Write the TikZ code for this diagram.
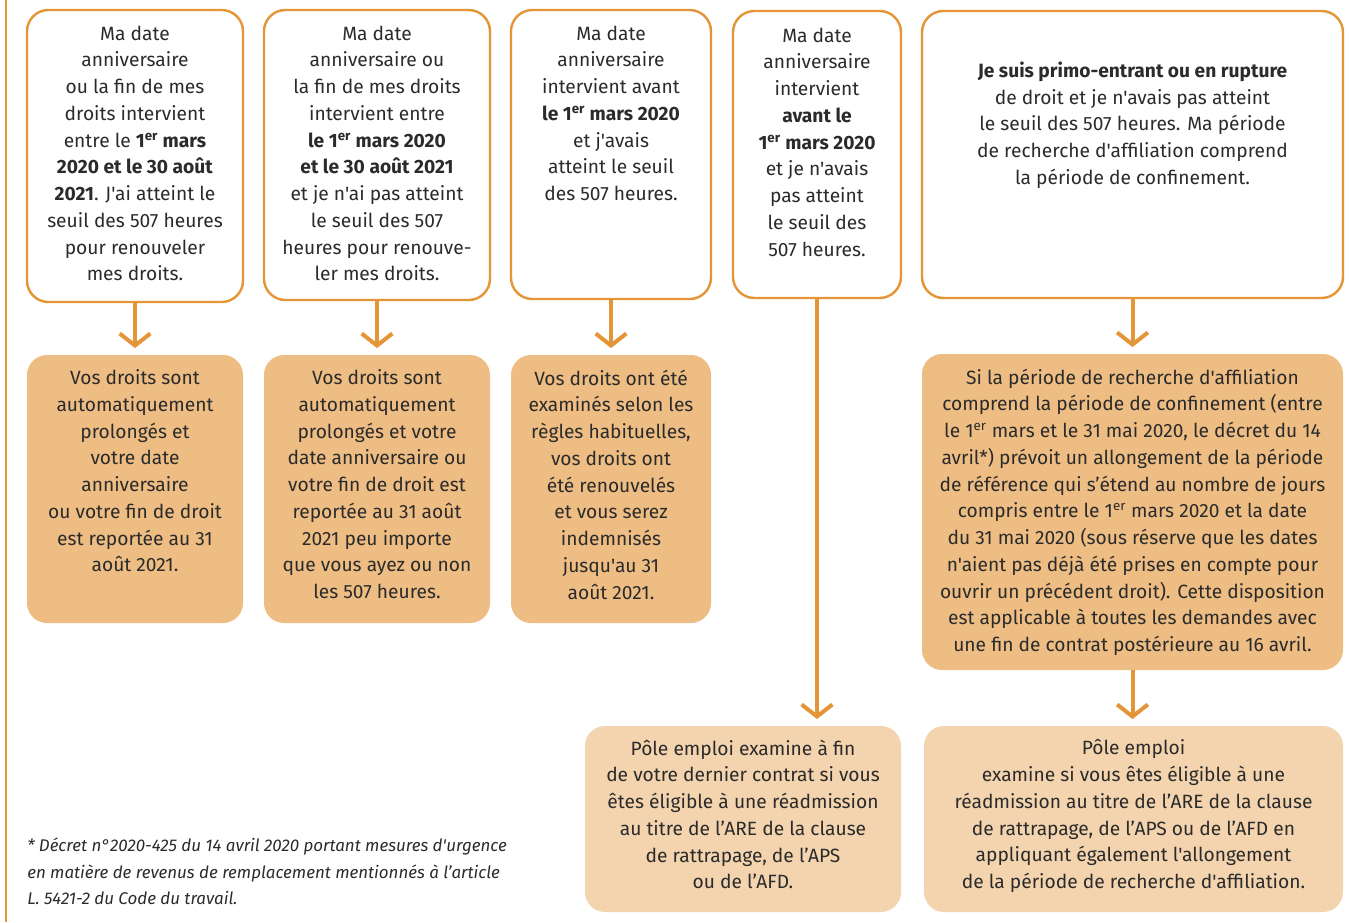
\documentclass[tikz,border=0pt]{standalone}
\usepackage{fontspec}
\setmainfont{Fira Sans}[Ligatures=TeXOff]
\usetikzlibrary{arrows.meta}
\definecolor{orng}{HTML}{E39537}
\definecolor{fillA}{HTML}{EEBD83}
\definecolor{fillB}{HTML}{F3D4AE}
\definecolor{ink}{HTML}{2B2B2B}
\newcommand{\er}{\textsuperscript{er}}
\begin{document}
\begin{tikzpicture}[x=0.75pt,y=-0.75pt,
  topbox/.style={draw=orng, line width=1.8pt, fill=white, rounded corners=16pt, inner sep=0pt},
  darkbox/.style={fill=fillA, rounded corners=15pt, inner sep=0pt},
  lightbox/.style={fill=fillB, rounded corners=15pt, inner sep=0pt},
  txt/.style={text=ink, align=center, inner sep=0pt, font=\fontsize{14.4}{20.05}\selectfont},
  foot/.style={text=ink, align=left, inner sep=0pt, font=\fontsize{12.7}{19.9}\selectfont\itshape},
  arr/.style={draw=orng, line width=3pt, -{Straight Barb[length=9pt,width=23pt]}, shorten >=5pt}
]
\useasboundingbox (0,0) rectangle (1350,922);
\draw[orng, line width=1.5pt] (6,0) -- (6,922);

% top boxes
\node[topbox, minimum width=162pt, minimum height=219pt] (b1) at (135,156) {};
\node[topbox, minimum width=169.5pt, minimum height=217.5pt] (b2) at (377,155) {};
\node[topbox, minimum width=150pt, minimum height=216.75pt] (b3) at (611,154.5) {};
\node[topbox, minimum width=126pt, minimum height=215.25pt] (b4) at (817,154.5) {};
\node[topbox, minimum width=315.75pt, minimum height=215.25pt] (b5) at (1132.5,154.5) {};

% second row
\node[darkbox, minimum width=162pt, minimum height=201pt] (b6) at (135,489) {};
\node[darkbox, minimum width=169.5pt, minimum height=201pt] (b7) at (377,489) {};
\node[darkbox, minimum width=150pt, minimum height=201pt] (b8) at (611,489) {};
\node[darkbox, minimum width=315.75pt, minimum height=237pt] (b9) at (1132.5,512) {};

% bottom row
\node[lightbox, minimum width=237pt, minimum height=139.5pt] (b10) at (743,819) {};
\node[lightbox, minimum width=314.25pt, minimum height=139.5pt] (b11) at (1133.5,819) {};

% texts
\node[txt, anchor=north] (t1) at (135,25.5) {Ma date\\ anniversaire\\ ou la fin de mes\\ droits intervient\\ entre le \textbf{1\er{} mars}\\ \textbf{2020 et le 30 août}\\ \textbf{2021}. J'ai atteint le\\ seuil des 507 heures\\ pour renouveler\\ mes droits.};
\node[txt, anchor=north] (t2) at (377,25.5) {Ma date\\ anniversaire ou\\ la fin de mes droits\\ intervient entre\\ \textbf{le 1\er{} mars 2020}\\ \textbf{et le 30 août 2021}\\ et je n'ai pas atteint\\ le seuil des 507\\ heures pour renouve-\\ ler mes droits.};
\node[txt, anchor=north] (t3) at (611,25.5) {Ma date\\ anniversaire\\ intervient avant\\ \textbf{le 1\er{} mars 2020}\\ et j'avais\\ atteint le seuil\\ des 507 heures.};
\node[txt, anchor=north] (t4) at (817,27.5) {Ma date\\ anniversaire\\ intervient\\ \textbf{avant le}\\ \textbf{1\er{} mars 2020}\\ et je n'avais\\ pas atteint\\ le seuil des\\ 507 heures.};
\node[txt, anchor=north] (t5) at (1132.5,61.5) {\textbf{Je suis primo-entrant ou en rupture}\\ de droit et je n'avais pas atteint\\ le seuil des 507 heures. Ma période\\ de recherche d'affiliation comprend\\ la période de confinement.};

\node[txt, anchor=north] (t6) at (135,369.5) {Vos droits sont\\ automatiquement\\ prolongés et\\ votre date\\ anniversaire\\ ou votre fin de droit\\ est reportée au 31\\ août 2021.};
\node[txt, anchor=north] (t7) at (377,369.5) {Vos droits sont\\ automatiquement\\ prolongés et votre\\ date anniversaire ou\\ votre fin de droit est\\ reportée au 31 août\\ 2021 peu importe\\ que vous ayez ou non\\ les 507 heures.};
\node[txt, anchor=north] (t8) at (611,369.5) {Vos droits ont été\\ examinés selon les\\ règles habituelles,\\ vos droits ont\\ été renouvelés\\ et vous serez\\ indemnisés\\ jusqu'au 31\\ août 2021.};
\node[txt, anchor=north] (t9) at (1132.5,368.5) {Si la période de recherche d'affiliation\\ comprend la période de confinement (entre\\ le 1\er{} mars et le 31 mai 2020, le décret du 14\\ avril*) prévoit un allongement de la période\\ de référence qui s’étend au nombre de jours\\ compris entre le 1\er{} mars 2020 et la date\\ du 31 mai 2020 (sous réserve que les dates\\ n'aient pas déjà été prises en compte pour\\ ouvrir un précédent droit). Cette disposition\\ est applicable à toutes les demandes avec\\ une fin de contrat postérieure au 16 avril.};

\node[txt, anchor=north] (t10) at (743,739.5) {Pôle emploi examine à fin\\ de votre dernier contrat si vous\\ êtes éligible à une réadmission\\ au titre de l’ARE de la clause\\ de rattrapage, de l’APS\\ ou de l’AFD.};
\node[txt, anchor=north] (t11) at (1133.5,739.5) {Pôle emploi\\ examine si vous êtes éligible à une\\ réadmission au titre de l’ARE de la clause\\ de rattrapage, de l’APS ou de l’AFD en\\ appliquant également l'allongement\\ de la période de recherche d'affiliation.};

\node[foot, anchor=north west] (fn) at (27,838) {* Décret n°2020-425 du 14 avril 2020 portant mesures d'urgence\\ en matière de revenus de remplacement mentionnés à l’article\\ L. 5421-2 du Code du travail.};

% connectors
\draw[arr] (b1.south) -- (b6.north);
\draw[arr] (b2.south) -- (b7.north);
\draw[arr] (b3.south) -- (b8.north);
\draw[arr] (b4.south) -- (b4.south |- b10.north);
\draw[arr] (b5.south) -- (b9.north);
\draw[arr] (b9.south) -- (b9.south |- b11.north);
\end{tikzpicture}
\end{document}
